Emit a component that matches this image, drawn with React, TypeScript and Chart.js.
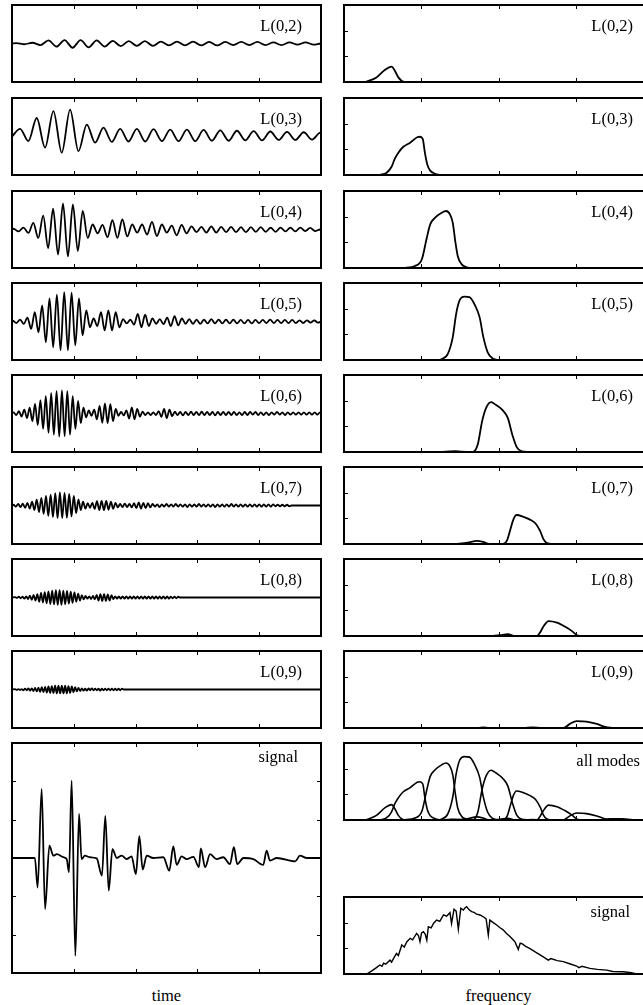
import React, { useEffect, useRef } from "react";
import { Chart, registerables } from "chart.js";

Chart.register(...registerables);

type Pt = [number, number];

// ---------- DATA ----------
const modeLabels = ["L(0,2)", "L(0,3)", "L(0,4)", "L(0,5)", "L(0,6)", "L(0,7)", "L(0,8)", "L(0,9)"];
const timeTicks = [20, 40, 60, 80];
const freqTicks = [25, 50, 75];
const signalAmpTicks = [-2, -1, 0, 1, 2];
const spectrumTicks = [1, 2];

// time of first extremum and half period of each mode's oscillation (time units 0..100)
const waveStart = [1.4, 2.6, 0.5, 0.24, 0.5, 0.5, 1, 1];
const waveHalfPeriod = [2.6, 2.7, 1.6, 1.19, 0.87, 0.75, 0.6, 0.54];

// successive extrema (percent of the panel half-height)
const waveL02 = [1, -2, 2, -4, 8, -8, 9, -11, 9, -10, 8, -8, 7, -7, 6, -6, 6, -6, 5, -5, 5, -5, 5, -5, 4, -5, 4, -4, 4, -4, 4, -4, 3, -4, 3, -3, 3, -3];
const waveL03 = [20, -12, 48, -29, 66, -42, 70, -38, 31, -16, 23, -14, 20, -13, 20, -13, 19, -12, 18, -12, 18, -12, 17, -11, 16, -11, 15, -10, 14, -10, 13, -9, 12, -9, 11, -8, 10];
const waveL04 = [2, -5, 5, -9, 17, -22, 36, -48, 54, -65, 68, -70, 65, -56, 48, -22, 13, -10, 12, -20, 24, -22, 26, -18, 13, -8, 13, -13, 20, -17, 13, -8, 10, -15, 12, -10, 8, -7, 7, -8, 8, -8, 7, -7, 7, -7, 6, -7, 6, -6, 6, -6, 5, -6, 5, -5, 5, -5, 5, -4, 4, -4];
const waveL05 = [2, -4, 5, -6, 10, -19, 24, -28, 42, -54, 60, -67, 70, -75, 76, -75, 75, -62, 60, -36, 29, -15, 8,
  -12, 24, -23, 29, -23, 24, -15, 6, -5, 5, -8, 20, -15, 18, -12, 8, -6, 6, -7, 10, -12, 14, -10, 8, -6, 6, -6,
  5, -6, 5, -5, 6, -5, 5, -5, 5, -5, 5, -5, 4, -5, 4, -5, 4, -4, 4, -4, 5, -4, 4, -4, 4, -4, 4, -4, 3, -4, 3, -3, 3, -3];
const waveL06 = [3, -4, 6, -8, 10, -12, 15, -20, 25, -30, 35, -40, 45, -50, 53, -55, 58, -60, 60, -59, 58, -55, 45, -40, 33, -25, 15, -10, 8, -6, 10, -15, 20, -24, 26, -25, 24, -20, 12, -6, 4, -5, 8, -13, 16, -15, 12, -8, 5, -4, 3, -4, 3, -4, 6, -9, 12, -12, 10, -7, 5,
  -4, 4, -5, 4, -4, 5, -4, 4, -4, 5, -4, 4, -4, 4, -5, 4, -4, 4, -4, 4, -4, 4, -4, 3, -4, 4, -4, 4, -3, 4, -4, 3, -4, 3, -4, 3, -3, 4, -3, 3, -4, 3, -3, 3, -3, 3, -3, 3, -3, 3, -3, 3, -3, 3];
const waveL07 = [2, -3, 4, -4, 5, -6, 7, -8, 10, -12, 15, -17, 20, -22, 25, -27, 28, -30, 32, -33, 34, -33, 33, -32, 30, -28, 25, -20, 16, -12, 10, -8, 6, -6, 7, -9, 11, -12, 12, -12, 12, -11, 10, -9, 7, -5, 4, -4, 5, -4, 4,
  -5, 6, -7, 8, -8, 7, -7, 6, -5, 4,
  -3, 3, -4, 3, -3, 4, -3, 3, -3, 4, -3, 3, -3, 3, -4, 3, -3, 3, -3, 4, -3, 3, -3, 3, -3, 3, -4, 3, -3, 3, -3, 3, -3, 4, -3, 3, -3, 3, -3, 3, -3, 3, -3, 3, -3, 3, -3, 3, -3, 3, -3, 3, -2, 2, -2, 2, -2, 2, -2];
const waveL08 = [1, -1, 2, -2, 2, -3, 3, -4, 5, -6, 7, -8, 9, -11, 12, -13, 14, -15, 16, -17, 18, -18, 19, -19, 19, -19, 18, -18, 17, -16, 15, -14, 13, -11, 10, -8, 6, -5, 4, -3, 3, -4, 4, -5, 7, -8, 9, -9, 9, -9, 8, -8, 6, -4,
  3, -3, 3, -3, 3, -3, 3, -3, 3, -3, 3, -3, 3, -3, 3, -3, 3, -3, 3, -3, 3, -3, 3, -3, 3, -3, 3, -3, 3, -3, 2, -2, 2, -2, 2];
const waveL09 = [1, -1, 1, -1, 1, -2, 2, -2, 3, -3, 3, -4, 4, -5, 5, -6, 6, -7, 7, -8, 8, -9, 9, -9, 10, -10, 10, -10, 10, -10, 10, -10, 9, -9, 8, -7, 6, -5, 4, -4, 3,
  -3, 2, -3, 3, -2, 3, -2, 2, -2, 2, -3, 2, -2, 2, -2, 2, -2, 2, -2, 2, -2, 2, -2, 2];
const modeWaves = [waveL02, waveL03, waveL04, waveL05, waveL06, waveL07, waveL08, waveL09];

// received time signal: [time, amplitude]
const signalTime: Pt[] = [
  [0, 0], [7.4, 0], [8.3, -0.77], [9.6, 1.8], [10.7, -1.33], [12.1, 0.32], [13.4, 0.06], [14.5, 0.1], [16.6, 0.02], [17.7, -0.03],
  [18.45, -0.37], [19.3, 2.02], [20.5, -2.55], [21.7, 1.15], [22.5, -0.03], [23.6, 0.06], [25.2, 0.02], [27.4, -0.01],
  [29.1, -0.46], [30.2, 1.1], [31.3, -0.85], [32.5, 0.23], [33.9, 0], [35.5, 0.06], [37.1, -0.03], [38.7, 0.04],
  [40.1, -0.42], [41.2, 0.57], [42.3, -0.3], [43.6, 0.06], [45.7, 0], [49, 0.02],
  [50.9, -0.33], [52.2, 0.3], [53.3, -0.18], [54.9, 0.04], [56.5, -0.03], [58.7, 0.03],
  [60.5, -0.24], [61.1, 0.25], [62.5, -0.24], [64.1, 0.1], [66.2, -0.03], [68.4, 0.02],
  [70.55, -0.16], [71.8, 0.28], [72.9, -0.16], [74.9, 0], [78.1, -0.03],
  [81.3, -0.18], [82.4, 0.19], [83.5, -0.07], [85.7, 0], [91.6, -0.09], [93.2, 0.06], [95.4, 0], [100, 0],
];

// frequency spectra of the modes: [frequency, magnitude]
const specL02: Pt[] = [[7, 0], [10.5, 0.18], [13.2, 0.47], [15.4, 0.6], [16.5, 0.43], [17.6, 0.18], [18.7, 0.04], [19.5, 0]];
const specL03: Pt[] = [[11.6, 0], [13.8, 0.09], [15.4, 0.32], [16.5, 0.65], [17.6, 0.87], [19.2, 1.1], [21.4, 1.26], [23.7, 1.47], [24.6, 1.49], [25.5, 1.4], [26.2, 0.85], [27, 0.39], [27.9, 0.17], [29.5, 0.05], [31, 0]];
const specL04: Pt[] = [[19.2, 0], [23, 0.08], [25.2, 0.34], [26.8, 1.18], [27.9, 1.7], [29.5, 1.96], [31.6, 2.15], [33, 2.22], [34.3, 2.09], [35.2, 1.76], [36, 1.05], [36.8, 0.47], [38.1, 0.14], [39.7, 0.03], [41, 0]];
const specL05: Pt[] = [[30.9, 0], [33.6, 0.24], [35.2, 0.89], [36.3, 1.8], [37.4, 2.32], [39, 2.47], [40.6, 2.45], [42.2, 2.18], [43.9, 1.66], [45.1, 0.89], [46.5, 0.3], [48.1, 0.06], [49.7, 0]];
const specL06: Pt[] = [[31, 0], [34, 0.02], [36, 0.03], [38, 0.01], [41.7, 0], [43.3, 0.3], [44.7, 1.2], [46, 1.72], [47.6, 1.94], [49.2, 1.83], [51.4, 1.62], [53, 1.33], [54.6, 0.62], [55.9, 0.19], [57.3, 0.04], [60, 0]];
const specL07: Pt[] = [[36, 0], [40, 0.05], [43, 0.12], [45, 0.08], [47, 0], [51.5, 0], [52.8, 0.15], [53.8, 0.55], [54.8, 0.95], [55.8, 1.13], [57.9, 1.07], [60.2, 0.95], [62, 0.8], [63.5, 0.5], [64.5, 0.2], [65.5, 0.05], [67, 0]];
const specL08: Pt[] = [[48, 0], [50.5, 0.03], [53, 0.07], [55.3, 0], [62.4, 0], [63.5, 0.15], [64.5, 0.36], [66.2, 0.58], [68.9, 0.52], [71.6, 0.36], [73.8, 0.19], [75.4, 0.03], [76.5, 0]];
const specL09: Pt[] = [[43, 0], [45, 0.02], [47, 0], [58, 0], [61, 0.02], [64, 0], [71, 0], [73.1, 0.16], [75.3, 0.27], [78.5, 0.25], [81.8, 0.16], [84.5, 0.04], [87, 0]];
const specHigher: Pt[] = [[83, 0], [86, 0.05], [90, 0.05], [94, 0]];
const modeSpectra = [specL02, specL03, specL04, specL05, specL06, specL07, specL08, specL09];

// spectrum of the received signal
const signalSpectrum: Pt[] = [
  [7.3, 0], [9, 0.12], [10.5, 0.25], [11.6, 0.35], [12.3, 0.3], [12.8, 0.42], [13.5, 0.38], [14.9, 0.54], [15.4, 0.46], [16, 0.6],
  [17, 0.8], [17.6, 0.72], [18.7, 1.13], [19.5, 1.05], [20.3, 1.25], [21.4, 1.39], [22.2, 1.33], [23.5, 1.58], [24.1, 1.5], [24.6, 1.26],
  [25.1, 1.6], [25.7, 1.65], [26.3, 1.55], [26.8, 1.32], [27.3, 1.84], [28.2, 1.8], [29, 1.98], [30, 2.1], [31, 2.05], [32.2, 2.3],
  [33.2, 2.25], [34.3, 2.39], [34.8, 1.97], [35.6, 2.52], [36.3, 2.45], [37, 1.74], [37.8, 2.56], [38.6, 2.49], [39.2, 2.58], [39.7, 2.62],
  [40.5, 2.5], [41.3, 2.43], [42.1, 2.4], [42.9, 2.33], [44, 2.3], [45.1, 2.23], [46, 2.15], [46.7, 1.52], [47.2, 2.1], [48.3, 2.0],
  [49.4, 1.91], [50.5, 1.8], [51.5, 1.72], [52.6, 1.58], [53.8, 1.45], [55.3, 1.26], [56.4, 0.96], [57, 1.2], [57.5, 1.19], [58.8, 1.08],
  [60.2, 0.99], [62, 0.85], [64.5, 0.67], [66.1, 0.54], [67, 0.6], [69, 0.52], [71, 0.48], [73, 0.4], [75.3, 0.31], [76, 0.25],
  [77, 0.3], [79.6, 0.22], [82, 0.18], [85, 0.15], [87, 0.1], [90.4, 0.09], [93, 0.05], [94.7, 0],
];

// ---------- LAYOUT ----------
const LEFT_X = 12;
const RIGHT_X = 344;
const PANEL_W = 309;
const PANEL_H = 77;
const rowTops = [5, 98, 191, 283, 375, 467, 559, 651];
const FONT = "16.5px 'Liberation Serif', 'Times New Roman', serif";

const framePlugin = {
  id: "frame",
  afterDatasetsDraw(chart: any, _args: any, opts: any) {
    const { ctx, chartArea: a, scales } = chart;
    ctx.save();
    ctx.strokeStyle = "#000";
    ctx.lineWidth = 2;
    ctx.strokeRect(a.left, a.top, a.right - a.left, a.bottom - a.top);
    ctx.lineWidth = 1;
    const tl = 4;
    ctx.beginPath();
    for (const v of opts.xTicks || []) {
      const x = Math.round(scales.x.getPixelForValue(v)) + 0.5;
      ctx.moveTo(x, a.top); ctx.lineTo(x, a.top + tl);
      ctx.moveTo(x, a.bottom); ctx.lineTo(x, a.bottom - tl);
    }
    for (const v of opts.yTicksLeft || []) {
      const y = Math.round(scales.y.getPixelForValue(v)) + 0.5;
      ctx.moveTo(a.left, y); ctx.lineTo(a.left + tl, y);
    }
    for (const v of opts.yTicksRight || []) {
      const y = Math.round(scales.y.getPixelForValue(v)) + 0.5;
      ctx.moveTo(a.right, y); ctx.lineTo(a.right - tl, y);
    }
    ctx.stroke();
    if (opts.label) {
      ctx.fillStyle = "#000";
      ctx.font = FONT;
      ctx.textAlign = "right";
      ctx.textBaseline = "alphabetic";
      ctx.fillText(opts.label, a.right - opts.labelRight, a.top + opts.labelBaseline);
    }
    ctx.restore();
  },
};

const toXY = (pts: Pt[]) => pts.map(([x, y]) => ({ x, y }));

const waveToXY = (start: number, step: number, values: number[]) => {
  const pts = [{ x: 0, y: 0 }];
  values.forEach((v, i) => pts.push({ x: start + i * step, y: v }));
  pts.push({ x: start + values.length * step, y: 0 });
  pts.push({ x: 100, y: 0 });
  return pts;
};

const lineDs = (data: any[], width = 1.8, smooth = true) => ({
  data,
  borderColor: "#000",
  borderWidth: width,
  pointRadius: 0,
  fill: false,
  cubicInterpolationMode: smooth ? "monotone" : "default",
  tension: 0,
});

type PanelProps = {
  x: number; y: number; w: number; h: number;
  datasets: any[];
  yMin: number; yMax: number;
  frame: any;
};

function Panel({ x, y, w, h, datasets, yMin, yMax, frame }: PanelProps) {
  const ref = useRef<HTMLCanvasElement>(null);
  const pad = 4;
  useEffect(() => {
    const chart = new Chart(ref.current as HTMLCanvasElement, {
      type: "line",
      data: { datasets },
      options: {
        animation: false,
        responsive: false,
        maintainAspectRatio: false,
        layout: { padding: pad },
        events: [],
        scales: {
          x: { type: "linear", min: 0, max: 100, display: false },
          y: { type: "linear", min: yMin, max: yMax, display: false },
        },
        plugins: {
          legend: { display: false },
          tooltip: { enabled: false },
          frame,
        } as any,
      },
      plugins: [framePlugin],
    } as any);
    return () => chart.destroy();
  }, []);
  return (
    <canvas
      ref={ref}
      width={w + 2 * pad}
      height={h + 2 * pad}
      style={{ position: "absolute", left: x - pad, top: y - pad, width: w + 2 * pad, height: h + 2 * pad }}
    />
  );
}

export default function App() {
  const textStyle: React.CSSProperties = {
    position: "absolute",
    font: FONT,
    lineHeight: "16.5px",
    color: "#000",
    transform: "translateX(-50%)",
    whiteSpace: "nowrap",
  };
  return (
    <div style={{ position: "fixed", left: 0, top: 0, width: 643, height: 1005, overflow: "hidden", background: "#fff" }}>
      {modeLabels.map((lab, i) => (
        <Panel
          key={"t" + i}
          x={LEFT_X} y={rowTops[i]} w={PANEL_W} h={PANEL_H}
          yMin={-100} yMax={100}
          datasets={[lineDs(waveToXY(waveStart[i], waveHalfPeriod[i], modeWaves[i]), 1.8)]}
          frame={{ xTicks: timeTicks, label: lab, labelRight: 19, labelBaseline: 26 }}
        />
      ))}
      {modeLabels.map((lab, i) => (
        <Panel
          key={"f" + i}
          x={RIGHT_X} y={rowTops[i]} w={PANEL_W} h={PANEL_H}
          yMin={0} yMax={3}
          datasets={[lineDs(toXY(modeSpectra[i]), 1.8)]}
          frame={{ xTicks: freqTicks, yTicksLeft: spectrumTicks, label: lab, labelRight: 20, labelBaseline: 26 }}
        />
      ))}
      <Panel
        x={LEFT_X} y={743} w={PANEL_W} h={230}
        yMin={-3} yMax={3}
        datasets={[lineDs(toXY(signalTime), 1.8)]}
        frame={{ xTicks: timeTicks, yTicksLeft: signalAmpTicks, yTicksRight: signalAmpTicks, label: "signal", labelRight: 23, labelBaseline: 18.5 }}
      />
      <Panel
        x={RIGHT_X} y={743} w={PANEL_W} h={PANEL_H}
        yMin={0} yMax={3}
        datasets={[...modeSpectra, specHigher].map((s) => lineDs(toXY(s), 1.6))}
        frame={{ xTicks: freqTicks, yTicksLeft: spectrumTicks, label: "all modes", labelRight: 13, labelBaseline: 23 }}
      />
      <Panel
        x={RIGHT_X} y={897} w={PANEL_W} h={PANEL_H}
        yMin={0} yMax={3}
        datasets={[lineDs(toXY(signalSpectrum), 1.4, false)]}
        frame={{ xTicks: freqTicks, yTicksLeft: spectrumTicks, label: "signal", labelRight: 23, labelBaseline: 19.5 }}
      />
      <div style={{ ...textStyle, left: 166.5, top: 988 }}>time</div>
      <div style={{ ...textStyle, left: 498.5, top: 988 }}>frequency</div>
    </div>
  );
}
